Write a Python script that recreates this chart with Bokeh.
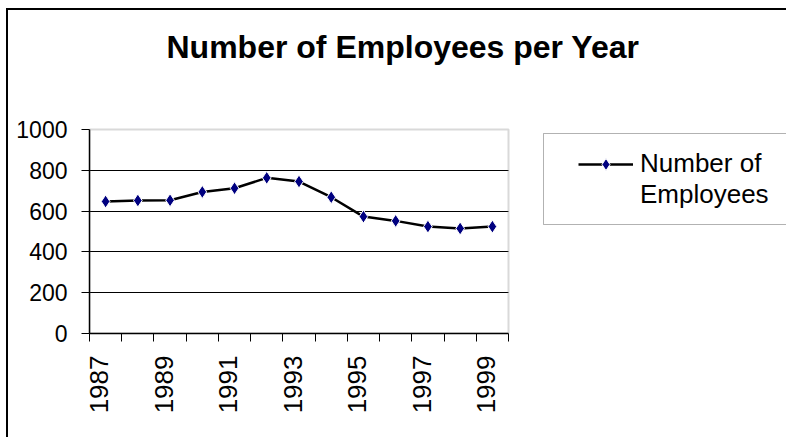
import math
from bokeh.plotting import figure
from bokeh.models import (Range1d, LinearAxis, FixedTicker, Legend, LegendItem, Label,
                          BoxAnnotation)
from bokeh.embed import file_html
from bokeh.resources import INLINE

# ---- data ----
years = [1987, 1988, 1989, 1990, 1991, 1992, 1993, 1994, 1995, 1996, 1997, 1998, 1999]
employees = [647, 652, 653, 694, 712, 763, 745, 668, 573, 552, 524, 515, 524]
y_ticks = [0, 200, 400, 600, 800, 1000]
title_text = "Number of Employees per Year"
series_name = ["Number of", "Employees"]

FONT = "Liberation Sans"
W, H = 780, 429
LEFT, BOTTOM = 81, 106
FRAME_W = W - LEFT          # frame runs to the right edge (legend lives there)
FRAME_H = H - BOTTOM        # frame runs to the top edge (title lives there)
PLOT_W, PLOT_H = 419, 204   # size of the actual plot area inside the frame

x_start = years[0] - 0.5
x_end = years[-1] + 0.5
x_view_end = x_start + (x_end - x_start) * FRAME_W / PLOT_W
y_view_end = y_ticks[0] + (y_ticks[-1] - y_ticks[0]) * FRAME_H / PLOT_H

p = figure(width=W, height=H, output_backend="svg", toolbar_location=None,
           x_axis_type=None, x_range=Range1d(x_start, x_view_end),
           y_range=Range1d(y_ticks[0], y_view_end),
           min_border_left=LEFT, min_border_right=0,
           min_border_top=0, min_border_bottom=BOTTOM)
p.styles = {"border-left": "2px solid black", "border-top": "2px solid black",
            "margin-left": "6px", "margin-top": "8px"}
p.background_fill_color = "white"
p.border_fill_color = "white"
p.outline_line_color = None

# title (screen units: relative to the frame's bottom-left corner)
p.add_layout(Label(x=77, y=287, x_units="screen", y_units="screen",
                   text=title_text, text_align="left", text_baseline="alphabetic",
                   text_font=FONT, text_font_style="bold", text_font_size="32px",
                   text_color="black"))

# plot-area border (gray)
p.add_layout(BoxAnnotation(left=x_start, right=x_end, bottom=y_ticks[0], top=y_ticks[-1],
                           fill_color=None, line_color="#808080", line_width=2,
                           level="underlay"))

# y axis
yax = p.yaxis[0]
yax.ticker = FixedTicker(ticks=y_ticks)
yax.bounds = (y_ticks[0], y_ticks[-1])
yax.minor_tick_line_color = None
yax.major_tick_out = 8
yax.major_tick_in = 0
yax.major_tick_line_color = "black"
yax.axis_line_color = "black"
yax.axis_line_width = 1.5
yax.major_label_standoff = 14
yax.major_label_text_font = FONT
yax.major_label_text_font_size = "23px"
yax.major_label_text_color = "black"

p.ygrid.ticker = FixedTicker(ticks=y_ticks[1:-1])
p.ygrid.cross_bounds = (x_start, x_end)
p.ygrid.grid_line_color = "black"
p.ygrid.grid_line_width = 1

# x axis: labels every second year (shifted slightly left like the original),
# tick marks at category boundaries drawn as minor ticks
shift = 0.19
p.extra_x_ranges = {"lab": Range1d(x_start + shift, x_view_end + shift)}
bounds = [y - 0.5 + shift for y in years] + [years[-1] + 0.5 + shift]
xb = LinearAxis(x_range_name="lab",
                ticker=FixedTicker(ticks=years[::2], minor_ticks=bounds),
                bounds=(x_start + shift, x_end + shift))
xb.axis_line_color = "black"
xb.axis_line_width = 1.5
xb.major_tick_line_color = None
xb.major_tick_out = 0
xb.major_tick_in = 0
xb.minor_tick_line_color = "black"
xb.minor_tick_out = 8
xb.minor_tick_in = 0
xb.major_label_orientation = math.pi / 2
xb.major_label_standoff = 14
xb.major_label_text_font = FONT
xb.major_label_text_font_size = "26px"
xb.major_label_text_color = "black"
p.add_layout(xb, "below")

# data
line_r = p.line(years, employees, line_color="black", line_width=2.5)
mark_r = p.scatter(years, employees, marker="diamond", size=13,
                   fill_color="#000080", line_color="white", line_width=1)

# legend frame (screen units relative to the frame's bottom-left corner)
p.add_layout(BoxAnnotation(left=454, right=760, bottom=109, top=200,
                           left_units="screen", right_units="screen",
                           bottom_units="screen", top_units="screen",
                           fill_color="white", fill_alpha=1,
                           line_color="black", line_width=1))

# legend
legend = Legend(items=[LegendItem(label=series_name[0], renderers=[line_r, mark_r]),
                       LegendItem(label=series_name[1], renderers=[])],
                location=(489, 123), orientation="vertical",
                padding=0, spacing=0, margin=0,
                glyph_width=55, glyph_height=30, label_height=30,
                label_width=140, label_standoff=7,
                label_text_font=FONT, label_text_font_size="26px",
                label_text_color="black",
                border_line_color=None,
                background_fill_color=None, background_fill_alpha=0)
p.add_layout(legend, "center")

open("out.html", "w").write(file_html(p, INLINE))
